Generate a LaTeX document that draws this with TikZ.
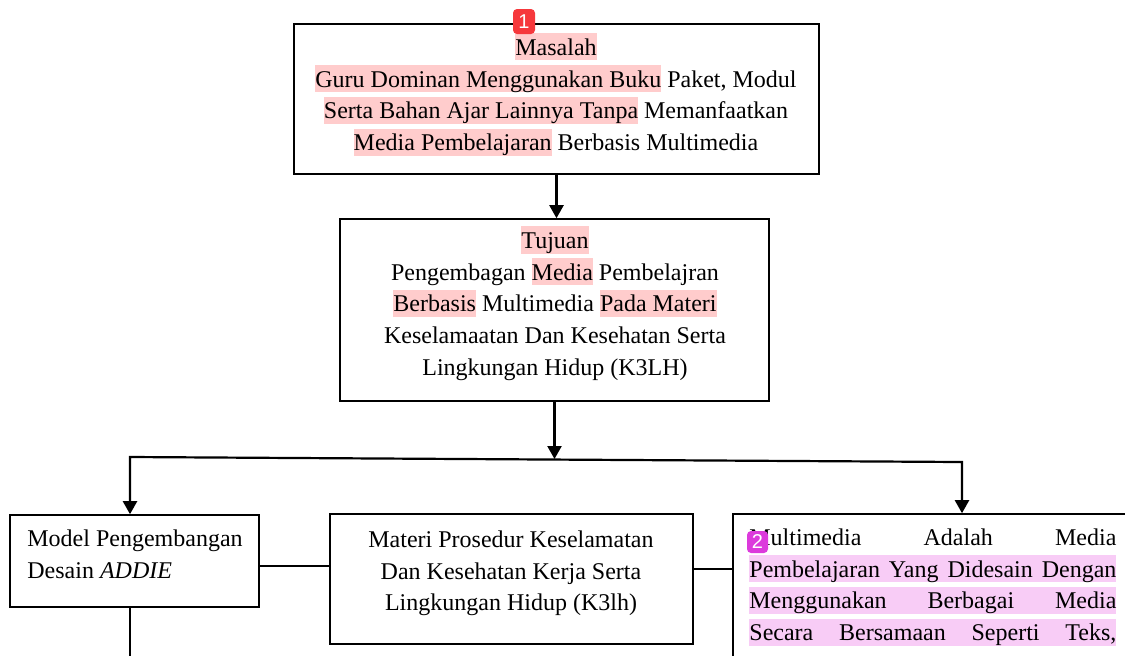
\documentclass[tikz,border=0pt]{standalone}
\usepackage{fontspec}
\setmainfont{Liberation Serif}
\newfontfamily\mksans{Liberation Sans}
\usetikzlibrary{arrows.meta}
\definecolor{hlred}{RGB}{255,204,204}
\definecolor{hlmag}{RGB}{248,204,246}
\definecolor{mkred}{RGB}{246,56,60}
\definecolor{mkmag}{RGB}{220,58,220}
\newcommand\sr{\rule[-2.5pt]{0pt}{13.5pt}}
\newcommand\hla[1]{{\setlength{\fboxsep}{0pt}\colorbox{hlred}{\sr#1}}}
\newcommand\hlb[1]{{\setlength{\fboxsep}{0pt}\colorbox{hlmag}{\sr\makebox[183.5pt][s]{#1}}}}
\newcommand\jl[1]{\sr\makebox[183.5pt][s]{#1}}
\begin{document}
\begin{tikzpicture}[x=0.5pt,y=-0.5pt,
 boxs/.style={draw, line width=0.8pt, rectangle, inner sep=0pt},
 txt/.style={inner sep=0pt, font=\fontsize{12}{15.85}\selectfont},
 ln/.style={line width=1.1pt, line join=miter},
 arr/.style={ln, -{Triangle[width=7pt,length=6.5pt]}},
 mk/.style={fill=#1, rounded corners=2pt, text=white, inner sep=0pt, font=\mksans\fontsize{10}{10}\selectfont},
]
\useasboundingbox (0,0) rectangle (1125,655);
\clip (0,0) rectangle (1125,655);
% boxes
\node[boxs, minimum width=262.5pt, minimum height=75pt] (b1) at (556.5,99) {};
\node[boxs, minimum width=214.5pt, minimum height=91pt] (b2) at (554.5,310) {};
\node[boxs, minimum width=124.5pt, minimum height=46pt] (b3) at (134.5,561) {};
\node[boxs, minimum width=181.5pt, minimum height=65pt] (b4) at (511.5,579) {};
\node[boxs, minimum width=203.5pt, minimum height=103pt] (b5) at (936.5,617) {};
% texts
\node[txt, anchor=north, align=center] (t1) at (556,33) {%
\hla{Masalah}\\
\hla{Guru Dominan Menggunakan Buku} Paket, Modul\\
\hla{Serta Bahan Ajar Lainnya Tanpa} Memanfaatkan\\
\hla{Media Pembelajaran} Berbasis Multimedia};
\node[txt, anchor=north, align=center] (t2) at (555,226) {%
\hla{Tujuan}\\
\sr Pengembagan \hla{Media} Pembelajran\\
\hla{Berbasis} Multimedia \hla{Pada Materi}\\
\sr Keselamaatan Dan Kesehatan Serta\\
\sr Lingkungan Hidup (K3LH)};
\node[txt, anchor=north west, align=left] (t3) at (27,524) {%
\sr Model Pengembangan\\
\sr Desain \textit{ADDIE}};
\node[txt, anchor=north, align=center] (t4) at (511,525) {%
\sr Materi Prosedur Keselamatan\\
\sr Dan Kesehatan Kerja Serta\\
\sr Lingkungan Hidup (K3lh)};
\node[txt, anchor=north west, align=left] (t5) at (749,523) {%
\jl{Multimedia Adalah Media}\\
\hlb{Pembelajaran Yang Didesain Dengan}\\
\hlb{Menggunakan Berbagai Media}\\
\hlb{Secara Bersamaan Seperti Teks,}};
% connectors
\coordinate (hl) at (130,457);
\coordinate (hm) at (555,459);
\coordinate (hr) at (962,462);
\draw[arr] (b1.south) -- (b1.south |- b2.north);
\draw[arr] (b2.south) -- (b2.south |- hm);
\draw[ln, {Triangle[width=7pt,length=6.5pt]}-{Triangle[width=7pt,length=6.5pt]}]
  (hl |- b3.north) -- (hl) -- (hr) -- (hr |- b5.north);
\draw[ln] (b3.east |- 0,566) -- (b4.west |- 0,566);
\draw[ln] (b4.east |- 0,569) -- (b5.west |- 0,569);
\draw[ln] (hl |- b3.south) -- (130,670);
% markers
\node[mk=mkred, minimum width=11pt, minimum height=12.5pt] (m1) at (524,21.5) {1};
\node[mk=mkmag, minimum width=10.5pt, minimum height=11pt] (m2) at (757.5,542) {2};
\end{tikzpicture}
\end{document}
